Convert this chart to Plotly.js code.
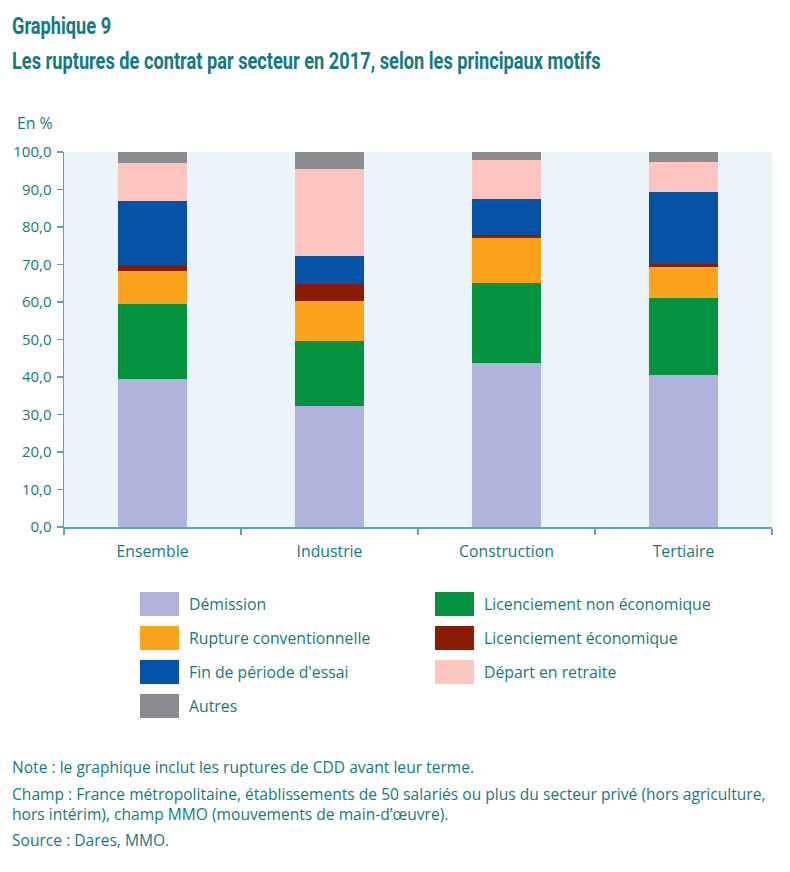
<!DOCTYPE html>
<html>
<head>
<meta charset="utf-8">
<script src="https://cdn.plot.ly/plotly-3.0.1.min.js"></script>
<style>
html,body{margin:0;padding:0;background:#fff;}
#chart{width:790px;height:872px;}
</style>
</head>
<body>
<div id="chart"></div>
<script>
// ---- Data ----
const categories = ["Ensemble", "Industrie", "Construction", "Tertiaire"];
const demission = [39.4, 32.2, 43.8, 40.5];
const licNonEco = [20.1, 17.5, 21.3, 20.6];
const ruptureConv = [8.7, 10.5, 12.0, 8.2];
const licEco = [1.6, 4.6, 0.9, 0.9];
const finEssai = [17.1, 7.6, 9.4, 19.2];
const departRetraite = [10.2, 23.0, 10.5, 7.9];
const autres = [2.9, 4.6, 2.1, 2.7];

const seriesNames = ["Démission", "Licenciement non économique", "Rupture conventionnelle",
  "Licenciement économique", "Fin de période d'essai", "Départ en retraite", "Autres"];
const seriesValues = [demission, licNonEco, ruptureConv, licEco, finEssai, departRetraite, autres];
const yTicks = [0, 10, 20, 30, 40, 50, 60, 70, 80, 90, 100];

// ---- Styles ----
const colors = ["#b0b3dc", "#05923f", "#fba31a", "#8a1b05", "#0453a6", "#fdc5c0", "#8b8c90"];
const teal = "#137b80";
const axisCol = "#5aa7b4";
const bodyFont = "Open Sans, Noto Sans, sans-serif";
const titleFont = "Roboto, Open Sans, sans-serif";

const W = 790, H = 872;
const M = {l: 64, r: 18, t: 152, b: 345};
const pw = W - M.l - M.r, ph = H - M.t - M.b;
const px = x => (x - M.l) / pw;
const py = y => (H - M.b - y) / ph;

const traces = seriesNames.map((n, i) => ({
  type: "bar", name: n, x: categories, y: seriesValues[i],
  marker: {color: colors[i], line: {width: 0}},
  showlegend: false, hoverinfo: "name+y"
}));

// Custom legend (two columns)
const shapes = [];
const annotations = [];
seriesNames.forEach((name, k) => {
  const col = k % 2, row = Math.floor(k / 2);
  const x0 = col === 0 ? 140 : 435;
  const yTop = 592 + row * 34;
  shapes.push({type: "rect", xref: "paper", yref: "paper",
    x0: px(x0), x1: px(x0 + 39), y0: py(yTop), y1: py(yTop + 24),
    fillcolor: colors[k], line: {width: 0}});
  annotations.push({xref: "paper", yref: "paper", x: px(x0 + 47), y: py(yTop + 12),
    xanchor: "left", yanchor: "middle", showarrow: false, text: name,
    font: {family: bodyFont, size: 15.8, color: teal}});
});

// Titles & notes
function txt(text, x, y, size, family) {
  annotations.push({xref: "paper", yref: "paper", x: px(x), y: py(y),
    xanchor: "left", yanchor: "middle", showarrow: false, text: text, align: "left",
    font: {family: family, size: size, color: teal}});
}
txt("<b>Graphique 9</b>", 10, 26, 24, titleFont);
txt("<b>Les ruptures de contrat par secteur en 2017, selon les principaux motifs</b>", 10, 61, 24, titleFont);
txt("En %", 15, 123, 15.8, bodyFont);
txt("Note : le graphique inclut les ruptures de CDD avant leur terme.", 10, 767, 15.6, bodyFont);
txt("Champ : France métropolitaine, établissements de 50 salariés ou plus du secteur privé (hors agriculture,<br>hors intérim), champ MMO (mouvements de main-d’œuvre).", 10, 803.5, 15.6, bodyFont);
txt("Source : Dares, MMO.", 10, 840, 15.6, bodyFont);

const layout = {
  width: W, height: H,
  margin: M,
  barmode: "stack",
  bargap: 0.605,
  separators: ", ",
  paper_bgcolor: "#ffffff",
  plot_bgcolor: "#ebf4f8",
  showlegend: false,
  font: {family: bodyFont, color: teal, size: 15},
  xaxis: {
    type: "category",
    showline: true, linecolor: axisCol, linewidth: 1.5,
    ticks: "outside", tickcolor: axisCol, ticklen: 6, tickwidth: 1.2,
    tickson: "boundaries",
    showgrid: false, zeroline: false,
    tickfont: {family: bodyFont, size: 15.8, color: teal},
    ticklabelstandoff: 10,
    range: [-0.5, 3.5]
  },
  yaxis: {
    range: [0, 100],
    tickvals: yTicks,
    tickformat: ".1f",
    showline: true, linecolor: axisCol, linewidth: 1.5,
    ticks: "outside", tickcolor: axisCol, ticklen: 6, tickwidth: 1.2,
    showgrid: false, zeroline: false,
    tickfont: {family: bodyFont, size: 15, color: teal},
    ticklabelstandoff: 2
  },
  shapes: shapes,
  annotations: annotations
};

function condenseTitles() {
  document.querySelectorAll("text.annotation-text").forEach(t => {
    const s = t.textContent;
    if (s.startsWith("Graphique") || s.startsWith("Les ruptures")) {
      t.style.transformBox = "fill-box";
      t.style.transformOrigin = "left center";
      t.style.transform = "scaleX(0.76)";
    }
  });
}

const gd = document.getElementById("chart");
Plotly.newPlot(gd, traces, layout, {displayModeBar: false, staticPlot: true}).then(() => {
  condenseTitles();
  gd.on("plotly_afterplot", condenseTitles);
});
</script>
</body>
</html>
